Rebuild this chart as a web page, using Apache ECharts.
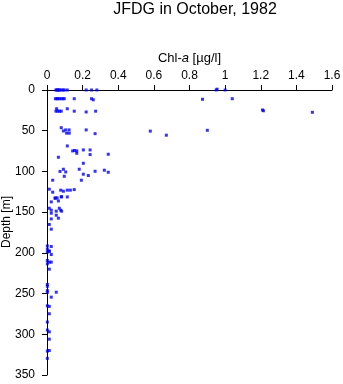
<!DOCTYPE html>
<html>
<head>
<meta charset="utf-8">
<script src="https://cdn.jsdelivr.net/npm/echarts@6/dist/echarts.min.js"></script>
<style>
  html, body { margin: 0; padding: 0; background: #fff; }
  #chart { width: 343px; height: 384px; }
</style>
</head>
<body>
<div id="chart"></div>
<script>
// Chlorophyll-a profile samples: concentration [µg/l] and sample depth [m]
const chlA = [
  0.05, 0.055, 0.06, 0.065, 0.07, 0.08, 0.09, 0.097, 0.114, 0.22, 0.25, 0.28, 0.95, 1.0, 0.955,
  0.047, 0.055, 0.06, 0.07, 0.08, 0.09, 0.097, 0.153, 0.25, 0.26, 0.873, 1.04,
  0.054, 0.114, 0.05, 0.06, 0.07, 0.08, 0.153, 0.22, 0.273, 1.21, 1.215, 1.49,
  0.08, 0.092, 0.105, 0.124, 0.11, 0.125, 0.22, 0.27, 0.58, 0.67, 0.90,
  0.114, 0.064, 0.144, 0.155, 0.167, 0.167, 0.204, 0.242, 0.242, 0.344, 0.204,
  0.092, 0.073, 0.105, 0.181, 0.204, 0.232, 0.27, 0.322, 0.344, 0.097, 0.193, 0.032,
  0.013, 0.032, 0.077, 0.092, 0.114, 0.131, 0.153, 0.047, 0.08, 0.114,
  0.045, 0.057, 0.082, 0.024, 0.064, 0.013, 0.024, 0.024, 0.052, 0.069, 0.077, 0.082,
  0.052, 0.064, 0.024, 0.013, 0.024,
  0.002, 0.024, 0.002, 0.013, 0.002, 0.013, 0.024,
  0.002, 0.002, 0.013, 0.024, 0.013,
  0.002, 0.002, 0.002, 0.002, 0.052, 0.024, 0.002, 0.013, 0.013, 0.002, 0.002, 0.013,
  0.013, 0.002, 0.013, 0.002
];
const depth = [
  0, 0, 0, 0, 0, 0, 0, 0, 0, 0, 0, 0, 0, 0, -1,
  10.7, 10.7, 10.7, 10.7, 10.7, 10.7, 10.7, 10.7, 10.7, 12, 11.4, 10.7,
  23, 23, 26, 26, 26, 26, 26, 27, 26, 24.5, 25.5, 27.4,
  46.3, 50.3, 49, 49, 53, 53, 49, 53.6, 50.5, 55.5, 49.5,
  68.7, 82.6, 74.8, 74.3, 74.8, 77.7, 73.6, 73.6, 79.3, 78.9, 90,
  97.3, 100, 100.6, 97.3, 103.4, 105, 99.8, 98.5, 101, 106, 110.8, 110.8,
  121.8, 125.5, 123, 124.3, 123, 123, 122.3, 132.5, 131.3, 131.3,
  133, 132.5, 131, 137.4, 136.2, 145.2, 147.6, 151.3, 148.8, 145.2, 147.6, 148.8,
  153.8, 157.4, 158.3, 165.2, 170.9,
  191.4, 192.2, 195.5, 198.4, 199, 197.5, 202,
  209.4, 213.5, 211.4, 211.4, 220,
  238.8, 241, 246.3, 248.6, 248.3, 254.4, 265, 265.8, 274.8, 285, 294.8, 297,
  306, 320.6, 319.9, 329.6
];
const chlTicks = ['0', '0.2', '0.4', '0.6', '0.8', '1', '1.2', '1.4', '1.6'];
const depthTicks = ['0', '50', '100', '150', '200', '250', '300', '350'];

const font = '"Liberation Sans", Arial, Helvetica, sans-serif';
const points = chlA.map((v, i) => [v, depth[i]]);

const chart = echarts.init(document.getElementById('chart'), null, { renderer: 'canvas' });
chart.setOption({
  animation: false,
  backgroundColor: '#ffffff',
  title: {
    text: 'JFDG in October, 1982',
    left: 190,
    textAlign: 'center',
    top: -3,
    textStyle: { fontFamily: font, fontSize: 16, fontWeight: 'normal', color: '#000' }
  },
  graphic: [{
    type: 'text',
    x: 7,
    y: 222,
    rotation: Math.PI / 2,
    style: {
      text: 'Depth [m]',
      font: '12px ' + font,
      fill: '#000',
      align: 'center',
      verticalAlign: 'middle'
    }
  }],
  grid: { left: 47, top: 90, width: 285, height: 285, outerBoundsMode: 'none', containLabel: false },
  xAxis: {
    type: 'value',
    position: 'top',
    min: 0, max: 1.6, interval: 0.2,
    name: 'Chl-{i|a} [µg/l]',
    nameLocation: 'middle',
    nameGap: 23,
    nameTextStyle: {
      fontFamily: font, fontSize: 13, color: '#000',
      rich: { i: { fontFamily: font, fontSize: 13, fontStyle: 'italic', color: '#000' } }
    },
    axisLine: { show: true, lineStyle: { color: '#000', width: 1 } },
    axisTick: { show: true, inside: false, length: 5, lineStyle: { color: '#000' } },
    axisLabel: {
      margin: 8, fontFamily: font, fontSize: 12, color: '#000',
      formatter: (v) => chlTicks[Math.round(v / 0.2)] ?? ''
    },
    splitLine: { show: false }
  },
  yAxis: {
    type: 'value',
    inverse: true,
    min: 0, max: 350, interval: 50,
    axisLine: { show: true, lineStyle: { color: '#000', width: 1 } },
    axisTick: { show: true, inside: false, length: 5, lineStyle: { color: '#000' } },
    axisLabel: {
      margin: 12, fontFamily: font, fontSize: 12, color: '#000',
      formatter: (v) => depthTicks[Math.round(v / 50)] ?? ''
    },
    splitLine: { show: false }
  },
  series: [{
    type: 'scatter',
    data: points,
    symbol: 'rect',
    symbolSize: 3,
    itemStyle: { color: '#0000ff' },
    clip: false
  }]
});
</script>
</body>
</html>
